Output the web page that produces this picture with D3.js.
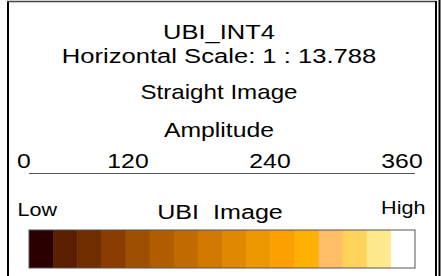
<!DOCTYPE html>
<html><head><meta charset="utf-8">
<script src="https://cdn.jsdelivr.net/npm/d3@7/dist/d3.min.js"></script>
<style>html,body{margin:0;padding:0;background:#fff;}svg{display:block;}</style>
</head><body>
<script>
const titleLines = ["UBI_INT4", "Horizontal Scale: 1 : 13.788", "Straight Image", "Amplitude"];
const tickValues = [0, 120, 240, 360];
const tickLabels = ["0", "120", "240", "360"];
const colorbarTitle = "UBI  Image";
const lowLabel = "Low", highLabel = "High";
const colorSteps = ["#2b0000","#5a1e00","#6f2d00","#8a3d00","#9e5000","#b05e00","#c06a00","#d07800",
                    "#df8800","#ee9800","#fba000","#ffb000","#ffbd66","#ffd35a","#ffe98d","#ffffff"];

const W = 441, H = 276, SX = 1.22;
const svg = d3.select("body").append("svg").attr("width", W).attr("height", H);
const font = "'Liberation Sans', Arial, Helvetica, sans-serif";

function txt(s, x, y, size, anchor) {
  svg.append("text")
    .attr("transform", `translate(${x},${y}) scale(${SX},1)`)
    .attr("text-anchor", anchor || "middle")
    .attr("font-family", font).attr("font-size", size)
    .attr("fill", "#000")
    .style("white-space", "pre")
    .text(s);
}

// frame
svg.append("line").attr("x1", 8).attr("x2", 8).attr("y1", 1).attr("y2", H).attr("stroke", "#000").attr("stroke-width", 2);
svg.append("line").attr("x1", 7).attr("x2", 437).attr("y1", 1.5).attr("y2", 1.5).attr("stroke", "#444").attr("stroke-width", 1.5);
svg.append("line").attr("x1", 436).attr("x2", 436).attr("y1", 1).attr("y2", H).attr("stroke", "#000").attr("stroke-width", 2);
svg.append("line").attr("x1", 439.5).attr("x2", 439.5).attr("y1", 0).attr("y2", H).attr("stroke", "#000").attr("stroke-width", 2);

// titles
const titleY = [38.5, 63, 99, 137];
const titleSize = [20.9, 21, 19.8, 20.3];
titleLines.forEach((t, i) => txt(t, 219, titleY[i], titleSize[i]));

// axis
const x = d3.scaleLinear().domain([0, 360]).range([29, 415]);
svg.append("line").attr("x1", x(0)).attr("x2", x(360)).attr("y1", 173.5).attr("y2", 173.5)
  .attr("stroke", "#555").attr("stroke-width", 1.2);
const xl = d3.scaleLinear().domain(tickValues).range([24, 128, 270, 402]);
tickValues.forEach((v, i) => txt(tickLabels[i], xl(v), 168, 20.3));

// colorbar
txt(lowLabel, 17.5, 216, 17.7, "start");
txt(highLabel, 425.5, 214, 17.7, "end");
txt(colorbarTitle, 220, 219, 20.6);
const cb = d3.scaleBand().domain(d3.range(colorSteps.length)).range([29, 415]).padding(0);
svg.append("g").selectAll("rect").data(colorSteps).join("rect")
  .attr("x", (d, i) => cb(i)).attr("y", 230).attr("width", cb.bandwidth() + 0.5).attr("height", 38)
  .attr("fill", d => d);
svg.append("rect").attr("x", 29).attr("y", 230).attr("width", 386).attr("height", 38)
  .attr("fill", "none").attr("stroke", "#555").attr("stroke-width", 1);
</script>
</body></html>
